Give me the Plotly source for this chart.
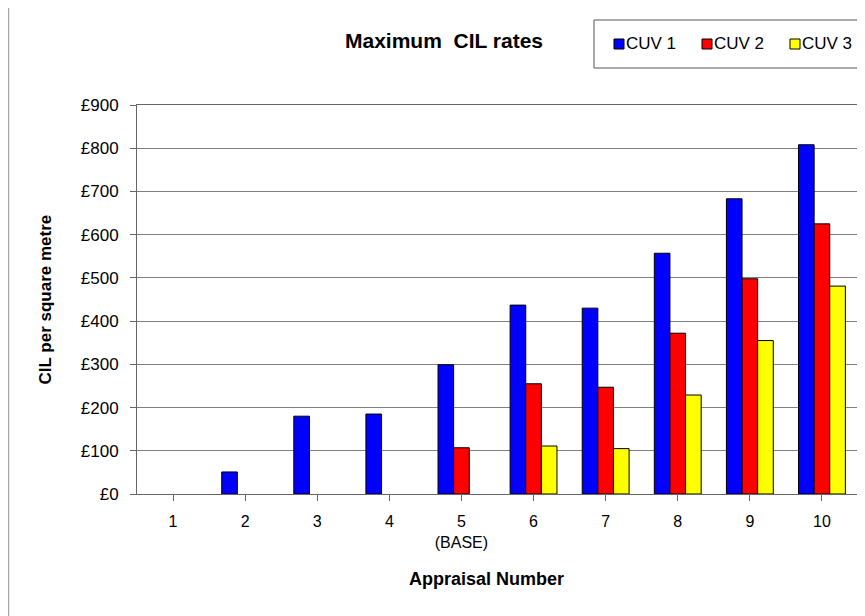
import plotly.graph_objects as go

appraisals = [1, 2, 3, 4, 5, 6, 7, 8, 9, 10]
tick_labels = ["1", "2", "3", "4", "5<br>(BASE)", "6", "7", "8", "9", "10"]
# None where the original chart draws no bar
cuv1 = [None, 51, 180, 185, 299, 437, 430, 557, 683, 808]
cuv2 = [None, None, None, None, 107, 255, 247, 372, 498, 625]
cuv3 = [None, None, None, None, None, 111, 105, 229, 355, 481]
y_ticks = [0, 100, 200, 300, 400, 500, 600, 700, 800, 900]

series = [("CUV 1", cuv1, "#0000FF"), ("CUV 2", cuv2, "#FF0000"), ("CUV 3", cuv3, "#FFFF00")]

font = "Liberation Sans, Arial, sans-serif"

# plot area in figure pixels (the page body adds an 8px margin, so the figure is 8px smaller)
L, T, W, H = 129, 97, 721, 389


def px(x):
    return (x - L) / W


def py(y):
    return (T + H - y) / H


fig = go.Figure()
for name, vals, col in series:
    fig.add_trace(go.Bar(x=appraisals, y=vals, name=name, showlegend=False,
                         marker=dict(color=col, line=dict(color="black", width=1))))

fig.update_layout(
    width=857, height=608,
    margin=dict(l=L, r=857 - L - W, t=T, b=608 - T - H, autoexpand=False),
    paper_bgcolor="white", plot_bgcolor="white",
    font=dict(family=font, size=16, color="black"),
    barmode="group", bargap=0.35, bargroupgap=0,
)

fig.update_xaxes(
    tickvals=appraisals, ticktext=tick_labels, range=[0.5, 10.5],
    tickfont=dict(size=16), ticklabelstandoff=7,
    showline=True, linecolor="#666666", linewidth=1, mirror=True,
    ticks="outside", tickson="boundaries", ticklen=6, tickcolor="#666666",
    showgrid=False,
)
fig.update_yaxes(
    range=[0, 900], tickvals=y_ticks, ticktext=["£" + str(v) for v in y_ticks],
    tickfont=dict(size=17), ticklabelstandoff=8,
    showline=True, linecolor="#666666", linewidth=1, mirror=True,
    ticks="outside", ticklen=6, tickcolor="#666666",
    showgrid=True, gridcolor="#808080", gridwidth=1,
    zeroline=False,
)

# titles placed like the original (slightly off-centre)
fig.add_annotation(text="<b>Maximum  CIL rates</b>", xref="paper", yref="paper",
                   x=px(436), y=py(32), xanchor="center", yanchor="middle",
                   showarrow=False, font=dict(size=21))
fig.add_annotation(text="<b>Appraisal Number</b>", xref="paper", yref="paper",
                   x=px(478), y=py(571), xanchor="center", yanchor="middle",
                   showarrow=False, font=dict(size=18))
fig.add_annotation(text="<b>CIL per square metre</b>", xref="paper", yref="paper",
                   x=px(37), y=0.5, xanchor="center", yanchor="middle", textangle=-90,
                   showarrow=False, font=dict(size=17))

# legend: boxed, small squares with the series names
fig.add_shape(type="rect", xref="paper", yref="paper", x0=px(586), x1=px(860),
              y0=py(60), y1=py(12), line=dict(color="#555555", width=1))
for i, (name, vals, col) in enumerate(series):
    x0 = 606 + 88 * i
    fig.add_shape(type="rect", xref="paper", yref="paper", x0=px(x0), x1=px(x0 + 10),
                  y0=py(41), y1=py(31), fillcolor=col, line=dict(color="black", width=1))
    fig.add_annotation(text=name, xref="paper", yref="paper", x=px(x0 + 10), y=py(36),
                       xanchor="left", yanchor="middle", showarrow=False,
                       font=dict(size=17))

# left frame line of the original slide
fig.add_shape(type="line", xref="paper", yref="paper", x0=px(0.5), x1=px(0.5),
              y0=-0.35, y1=1.3, line=dict(color="#aaaaaa", width=1.5))

fig.write_html("out.html")
